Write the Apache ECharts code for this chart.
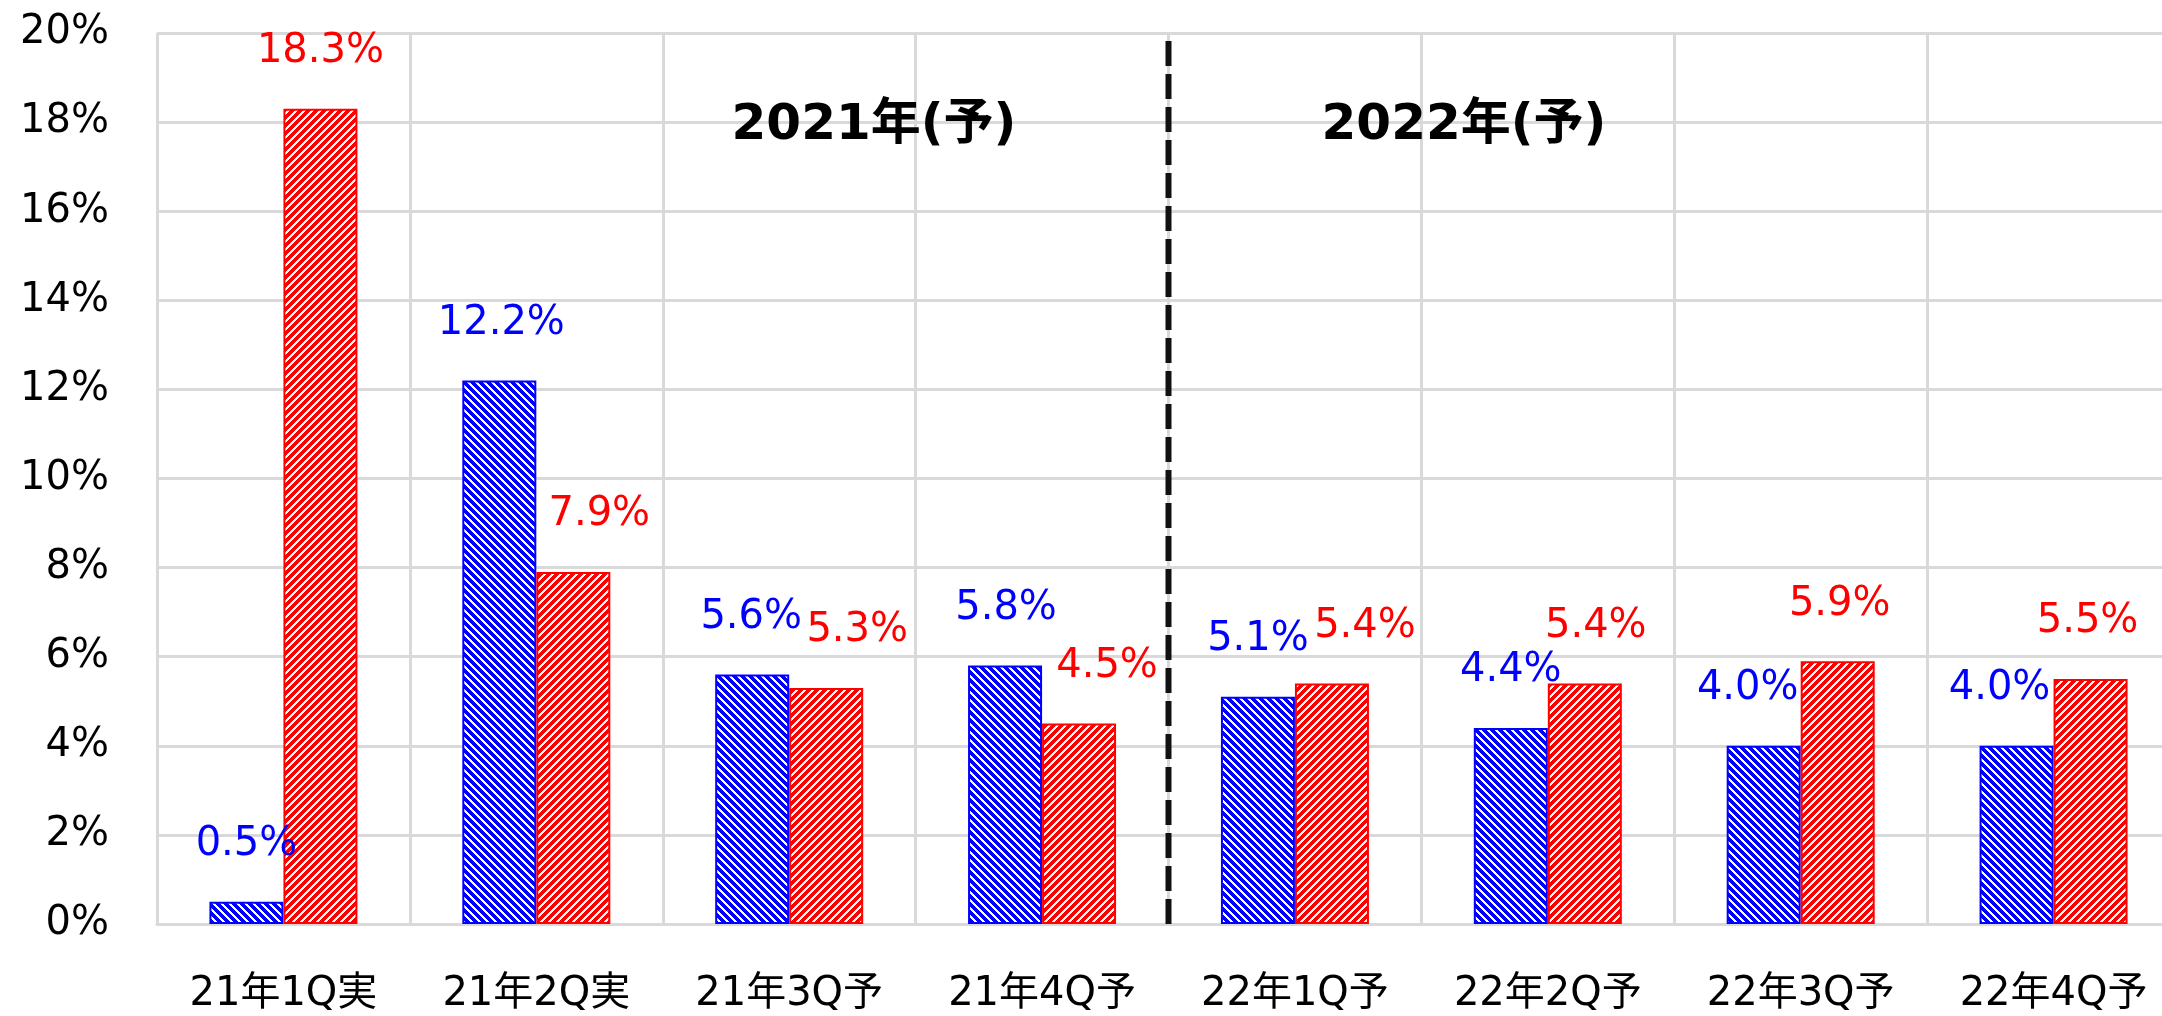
<!DOCTYPE html>
<html>
<head>
<meta charset="utf-8">
<script src="https://cdn.jsdelivr.net/npm/echarts@6/dist/echarts.min.js"></script>
<style>
html,body{margin:0;padding:0;background:#fff;overflow:hidden;width:2162px;height:1016px;}
#chart{width:2180px;height:1016px;}
</style>
</head>
<body>
<div id="chart"></div>
<script>
// ---- data ----
const categories = ['21年1Q実','21年2Q実','21年3Q予','21年4Q予','22年1Q予','22年2Q予','22年3Q予','22年4Q予'];
const blueValues = [0.5, 12.2, 5.6, 5.8, 5.1, 4.4, 4.0, 4.0];
const redValues  = [18.3, 7.9, 5.3, 4.5, 5.4, 5.4, 5.9, 5.5];
const yTicks = { min: 0, max: 20, interval: 2 };
const periodLabels = ['2021年(予)', '2022年(予)'];
const dividerIndex = 4; // boundary between 21年4Q and 22年1Q

// ---- styling (label nudges, not data) ----
const redLabelDx  = [0, 26, 31, 28, 33, 11, 2, -3];
const blueLabelDx = [0, 2, -1, 1, 0, 0, -16, -17];

function hatch(color, dir) {
  const c = document.createElement('canvas');
  c.width = 8; c.height = 8;
  const ctx = c.getContext('2d');
  ctx.fillStyle = '#fff';
  ctx.fillRect(0, 0, 8, 8);
  ctx.fillStyle = color;
  for (let y = 0; y < 8; y++) {
    for (let x = 0; x < 8; x++) {
      const k = dir === 'down' ? ((x - y + 16) % 8) : ((x + y) % 8);
      if (k < 5) ctx.fillRect(x, y, 1, 1);
    }
  }
  return c;
}

const FONT = '"DejaVu Sans", "Noto Sans CJK JP", sans-serif';
const chart = echarts.init(document.getElementById('chart'), null, { renderer: 'canvas' });

function mkData(vals, dx) {
  return vals.map((v, i) => ({ value: v, label: { offset: [dx[i], 0] } }));
}

const option = {
  backgroundColor: '#ffffff',
  animation: false,
  grid: { left: 157, top: 33, right: 0, bottom: 92, containLabel: false },
  xAxis: [{
    type: 'category',
    data: categories,
    boundaryGap: true,
    axisLine: { show: true, lineStyle: { color: '#d9d9d9', width: 3 } },
    axisTick: { show: false },
    axisLabel: { color: '#000', fontSize: 40, fontFamily: FONT, margin: 51, interval: 0 },
    splitLine: { show: true, lineStyle: { color: '#d9d9d9', width: 3 } }
  }, {
    type: 'value', min: 0, max: categories.length, show: false
  }],
  yAxis: {
    type: 'value',
    min: yTicks.min, max: yTicks.max, interval: yTicks.interval,
    axisLine: { show: false },
    axisTick: { show: false },
    axisLabel: { color: '#000', fontSize: 40, fontFamily: FONT, margin: 48, formatter: '{value}%' },
    splitLine: { show: true, lineStyle: { color: '#d9d9d9', width: 3 } }
  },
  series: [{
    name: 'blue', type: 'bar', data: mkData(blueValues, blueLabelDx),
    barWidth: 74, barGap: '0%',
    itemStyle: { color: { image: hatch('#0000ff', 'down'), repeat: 'repeat' }, borderColor: '#0000ff', borderWidth: 2 },
    label: { show: true, position: 'top', distance: 37, color: '#0000ff', fontSize: 40, fontFamily: FONT,
             formatter: p => p.value.toFixed(1) + '%' }
  }, {
    name: 'red', type: 'bar', data: mkData(redValues, redLabelDx),
    barWidth: 74, barGap: '0%',
    itemStyle: { color: { image: hatch('#ff0000', 'up'), repeat: 'repeat' }, borderColor: '#ff0000', borderWidth: 2 },
    label: { show: true, position: 'top', distance: 37, color: '#ff0000', fontSize: 40, fontFamily: FONT,
             formatter: p => p.value.toFixed(1) + '%' }
  }, {
    name: 'divider', type: 'line', xAxisIndex: 1, yAxisIndex: 0,
    data: [[dividerIndex, yTicks.min], [dividerIndex, yTicks.max]],
    symbol: 'none', silent: true, z: 5,
    lineStyle: { color: '#111', width: 6, type: [25, 8] }
  }],
  graphic: [
    { type: 'text', x: 874, y: 126, z: 10,
      style: { text: periodLabels[0], font: 'bold 50px ' + FONT, fill: '#000', textAlign: 'center', textVerticalAlign: 'middle', verticalAlign: 'middle' } },
    { type: 'text', x: 1464, y: 126, z: 10,
      style: { text: periodLabels[1], font: 'bold 50px ' + FONT, fill: '#000', textAlign: 'center', textVerticalAlign: 'middle', verticalAlign: 'middle' } }
  ]
};
chart.setOption(option);
</script>
</body>
</html>
